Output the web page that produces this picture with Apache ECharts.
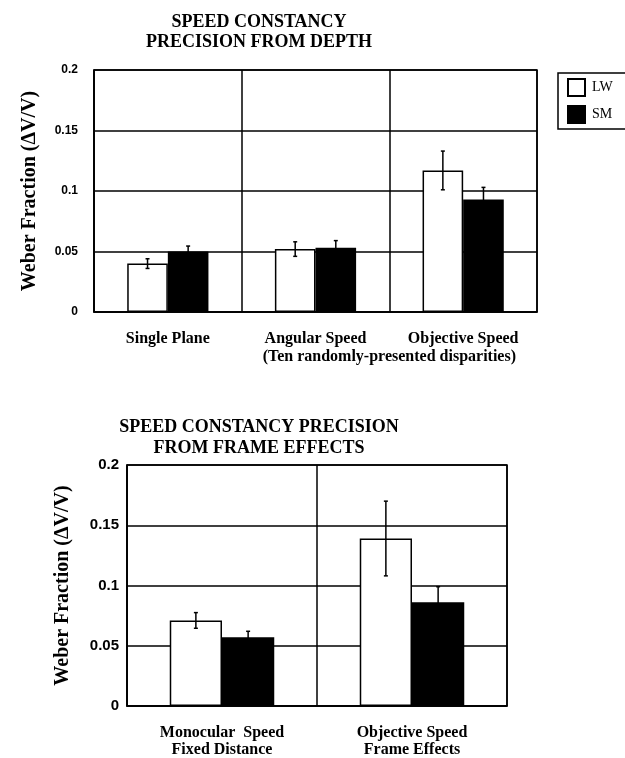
<!DOCTYPE html>
<html>
<head>
<meta charset="utf-8">
<script src="https://cdn.jsdelivr.net/npm/echarts@6/dist/echarts.min.js"></script>
<style>
html,body{margin:0;padding:0;background:#fff;}
#c{width:625px;height:758px;}
</style>
</head>
<body>
<div id="c"></div>
<script>
// ---- Data ----
const topTitle = 'SPEED CONSTANCY\nPRECISION FROM DEPTH';
const bottomTitle = 'SPEED CONSTANCY PRECISION\nFROM FRAME EFFECTS';
const yAxisName = 'Weber Fraction (\u0394V/V)';
const topCategories = ['Single Plane', 'Angular Speed', 'Objective Speed'];
const topSubLabel = '(Ten randomly-presented disparities)';
const topLW = [0.040, 0.052, 0.117];
const topLWErr = [0.004, 0.006, 0.016];
const topSM = [0.050, 0.053, 0.093];
const topSMErr = [0.0045, 0.006, 0.010];
const bottomCategories = ['Monocular  Speed\nFixed Distance', 'Objective Speed\nFrame Effects'];
const bottomLW = [0.071, 0.139];
const bottomLWErr = [0.0065, 0.031];
const bottomSM = [0.057, 0.086];
const bottomSMErr = [0.005, 0.013];
const seriesNames = ['LW', 'SM'];
const yTicks = {min: 0, max: 0.2, interval: 0.05};

// ---- Chart ----
const GAP = 0.45;
const chart = echarts.init(document.getElementById('c'), null, {renderer: 'canvas'});

function errRender(sign) {
  return function (params, api) {
    const ci = api.value(0), v = api.value(1), e = api.value(2);
    const band = api.size([1, 0])[0];
    const bw = band * (1 - GAP) / 2;
    const c = api.coord([ci, v]);
    const x = c[0] + sign * bw / 2;
    const yHi = api.coord([ci, v + e])[1];
    const yLo = api.coord([ci, v - e])[1];
    const cap = 2;
    const st = {stroke: '#000', lineWidth: 1.5};
    return {
      type: 'group',
      children: [
        {type: 'line', shape: {x1: x, y1: yHi, x2: x, y2: yLo}, style: st},
        {type: 'line', shape: {x1: x - cap, y1: yHi, x2: x + cap, y2: yHi}, style: st},
        {type: 'line', shape: {x1: x - cap, y1: yLo, x2: x + cap, y2: yLo}, style: st}
      ]
    };
  };
}
function errData(vals, errs) { return vals.map((v, i) => [i, v, errs[i]]); }

const serif = '"Liberation Serif", "Times New Roman", serif';
const sans = '"Liberation Sans", Arial, sans-serif';

function yAxis(gridIndex, fontSize) {
  return {
    type: 'value', gridIndex: gridIndex,
    min: yTicks.min, max: yTicks.max, interval: yTicks.interval,
    name: yAxisName, nameLocation: 'middle', nameGap: 54, nameRotate: 90,
    nameTextStyle: {fontFamily: serif, fontWeight: 'bold', fontSize: 20, color: '#000'},
    axisLine: {show: true, lineStyle: {color: '#000', width: 1.5}},
    axisTick: {show: false},
    axisLabel: {fontFamily: sans, fontWeight: 'bold', fontSize: fontSize, color: '#000', margin: gridIndex === 0 ? 16 : 8},
    splitLine: {show: true, lineStyle: {color: '#000', width: 1.5}}
  };
}
function xAxis(gridIndex, cats, margin, lh) {
  return {
    type: 'category', gridIndex: gridIndex, data: cats,
    axisLine: {show: true, lineStyle: {color: '#000', width: 1.5}},
    axisTick: {show: false},
    axisLabel: {fontFamily: serif, fontWeight: 'bold', fontSize: 16, color: '#000', margin: margin, lineHeight: lh, interval: 0},
    splitLine: {show: true, interval: 0, lineStyle: {color: '#000', width: 1.5}}
  };
}
const lwStyle = {color: '#fff', borderColor: '#000', borderWidth: 1.5};
const smStyle = {color: '#000', borderColor: '#000', borderWidth: 1.5};

const option = {
  animation: false,
  backgroundColor: '#fff',
  title: [
    {text: topTitle, left: 254, top: 7, textAlign: 'center',
     textStyle: {fontFamily: serif, fontWeight: 'bold', fontSize: 18, color: '#000', lineHeight: 20}},
    {text: bottomTitle, left: 254, top: 412, textAlign: 'center',
     textStyle: {fontFamily: serif, fontWeight: 'bold', fontSize: 18, color: '#000', lineHeight: 21}}
  ],
  legend: {
    data: seriesNames, orient: 'vertical', left: 558, top: 73,
    padding: [5, 16, 5, 9], itemGap: 8, itemWidth: 17, itemHeight: 17,
    borderColor: '#000', borderWidth: 1.5, icon: 'rect',
    textStyle: {fontFamily: serif, fontSize: 14, color: '#000', padding: [0, 0, 0, 2]}
  },
  grid: [
    {left: 94, right: 88, top: 70, height: 242, show: true, borderColor: '#000', borderWidth: 1.5, backgroundColor: 'transparent'},
    {left: 127, right: 118, top: 465, height: 242, show: true, borderColor: '#000', borderWidth: 1.5, backgroundColor: 'transparent'}
  ],
  xAxis: [xAxis(0, topCategories, 18, 18), xAxis(1, bottomCategories, 18, 17)],
  yAxis: [yAxis(0, 12), yAxis(1, 15)],
  series: [
    {name: seriesNames[0], type: 'bar', xAxisIndex: 0, yAxisIndex: 0, data: topLW, barGap: '0%', barCategoryGap: (GAP * 100) + '%', itemStyle: lwStyle},
    {name: seriesNames[1], type: 'bar', xAxisIndex: 0, yAxisIndex: 0, data: topSM, barGap: '0%', barCategoryGap: (GAP * 100) + '%', itemStyle: smStyle},
    {name: seriesNames[0], type: 'bar', xAxisIndex: 1, yAxisIndex: 1, data: bottomLW, barGap: '0%', barCategoryGap: (GAP * 100) + '%', itemStyle: lwStyle},
    {name: seriesNames[1], type: 'bar', xAxisIndex: 1, yAxisIndex: 1, data: bottomSM, barGap: '0%', barCategoryGap: (GAP * 100) + '%', itemStyle: smStyle},
    {type: 'custom', xAxisIndex: 0, yAxisIndex: 0, z: 10, renderItem: errRender(-1), encode: {x: 0, y: 1}, data: errData(topLW, topLWErr)},
    {type: 'custom', xAxisIndex: 0, yAxisIndex: 0, z: 10, renderItem: errRender(1), encode: {x: 0, y: 1}, data: errData(topSM, topSMErr)},
    {type: 'custom', xAxisIndex: 1, yAxisIndex: 1, z: 10, renderItem: errRender(-1), encode: {x: 0, y: 1}, data: errData(bottomLW, bottomLWErr)},
    {type: 'custom', xAxisIndex: 1, yAxisIndex: 1, z: 10, renderItem: errRender(1), encode: {x: 0, y: 1}, data: errData(bottomSM, bottomSMErr)}
  ]
};
chart.setOption(option);

// sub-label spanning the last two categories of the top chart
const xa = chart.convertToPixel({xAxisIndex: 0}, topCategories[1]);
const xb = chart.convertToPixel({xAxisIndex: 0}, topCategories[2]);
const yBase = chart.convertToPixel({yAxisIndex: 0}, 0);
chart.setOption({
  graphic: [{
    type: 'text', x: (xa + xb) / 2, y: yBase + 45,
    style: {text: topSubLabel, fontFamily: serif, fontWeight: 'bold', fontSize: 16, fill: '#000', align: 'center', verticalAlign: 'middle'}
  }]
});
</script>
</body>
</html>
